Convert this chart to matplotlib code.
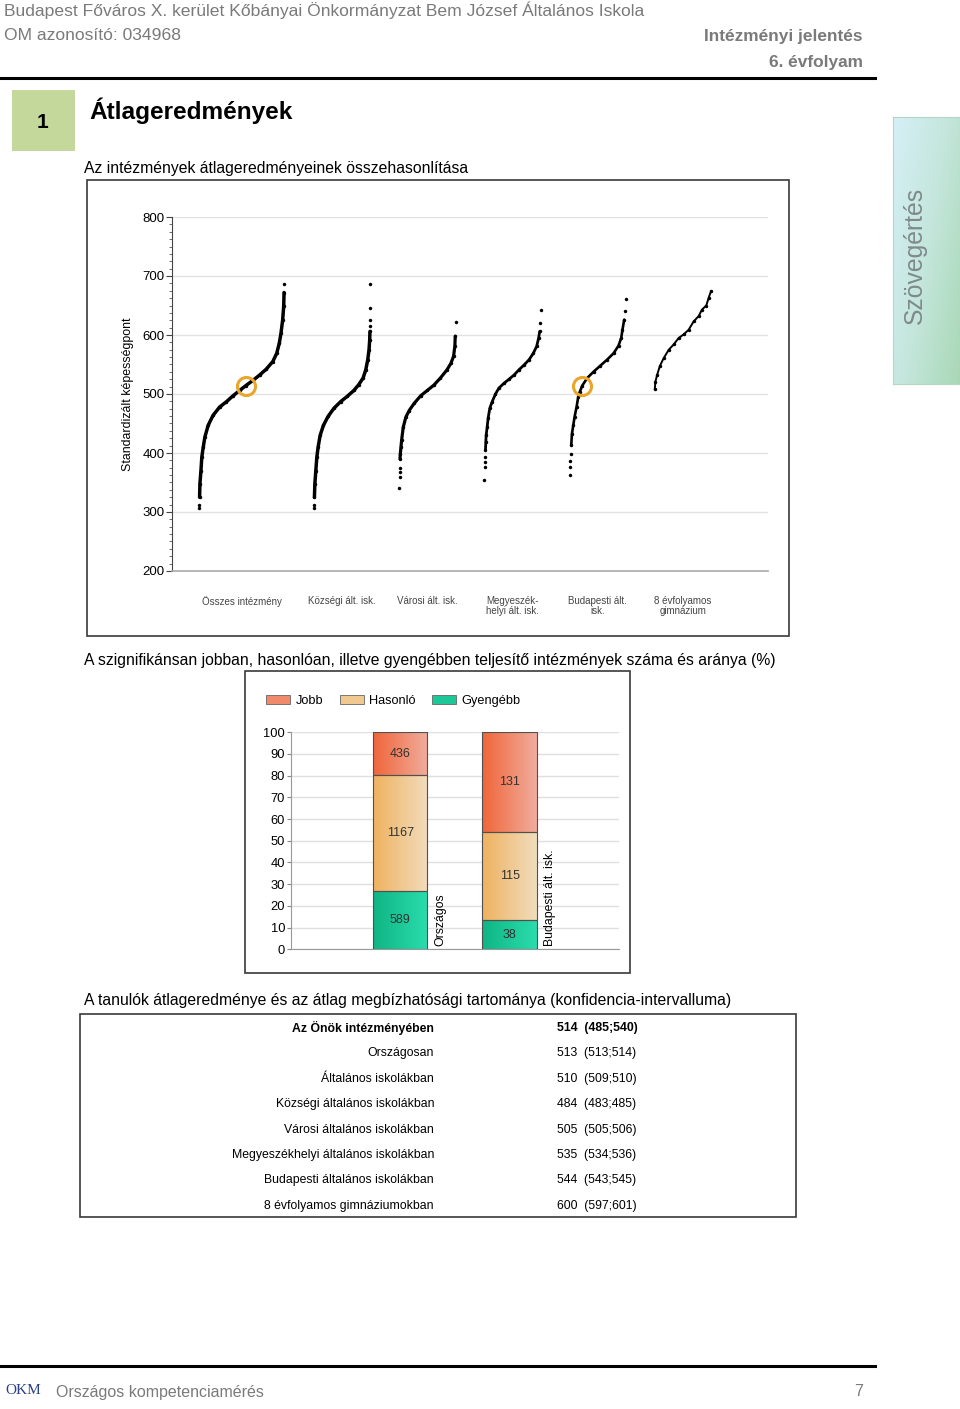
import numpy as np
import matplotlib
matplotlib.use("Agg")
import matplotlib.pyplot as plt
from matplotlib.patches import Rectangle, Patch
from matplotlib.lines import Line2D
from matplotlib.colors import LinearSegmentedColormap

SANS = ['Liberation Sans', 'DejaVu Sans']
plt.rcParams['font.family'] = SANS

W, H = 960, 1409

# ---- adatok: 1. ábra (iskolák átlageredményei sorba rendezve) ----
categories = ['Összes intézmény', 'Községi ált. isk.', 'Városi ált. isk.',
              'Megyeszék-\nhelyi ált. isk.', 'Budapesti ált.\nisk.', '8 évfolyamos\ngimnázium']

osszes_rank = [0, 0.2, 0.4, 0.8, 2, 3, 4.7, 6.6, 10.5, 16.3, 24, 32, 39.7, 47.5, 54.5, 63,
               70.8, 78.6, 86.4, 91, 94, 96, 98, 99.2, 99.6, 100]
osszes_score = [307, 312, 325, 348, 370, 393, 410, 427, 447, 464, 478, 487, 497, 506, 514, 523,
                532, 542, 555, 569, 586, 603, 626, 649, 672, 687]

kozsegi_rank = [0, 0.2, 0.4, 1.2, 2.9, 4.7, 7, 10.6, 16.5, 24.7, 35.3, 47, 58.8, 70.6, 79.4, 87,
                91.8, 95.3, 97.6, 98.8, 99.2, 99.4, 99.6, 99.8, 100]
kozsegi_score = [307, 312, 325, 348, 370, 393, 410, 430, 447, 462, 476, 487, 496, 506, 516, 527,
                 541, 558, 575, 592, 606, 615, 625, 645, 687]

varosi_rank = [0, 0.3, 0.6, 0.9, 1.2, 1.8, 2.9, 4.1, 7, 11.7, 17.5, 26.3, 38, 49.7, 61.4, 73,
               84.8, 91.8, 96.5, 98.8, 99.5, 100]
varosi_score = [341, 359, 368, 375, 390, 399, 410, 422, 444, 461, 472, 484, 497, 506, 515, 527,
                541, 552, 564, 581, 598, 622]

megyei_rank = [0, 0.3, 0.6, 0.9, 1.8, 2.4, 3, 4.8, 6.5, 9.5, 13.7, 19.6, 25.6, 34.5, 43.5, 52.4,
               61.3, 70.2, 79.2, 86.9, 92.9, 96.4, 98.2, 99.4, 100]
megyei_score = [355, 376, 385, 393, 405, 419, 430, 444, 459, 476, 487, 500, 510, 518, 525, 532,
                541, 549, 558, 569, 581, 595, 606, 620, 642]

budapesti_rank = [0, 0.6, 1.2, 1.8, 2.9, 4.1, 6.5, 8.8, 12.4, 15.3, 18.2, 22.4, 31.2, 42.9, 54.7,
                  66.5, 78.2, 87.1, 91.8, 94.1, 97.1, 98.8, 100]
budapesti_score = [362, 376, 387, 399, 413, 432, 447, 461, 478, 495, 504, 514, 527, 538, 548,
                   558, 569, 582, 595, 609, 626, 640, 661]

gimn_rank = [0, 1.2, 4.1, 8.9, 16, 24.9, 33.7, 42.6, 51.5, 60.4, 69.2, 78.1, 84, 91.7, 95.9, 100]
gimn_score = [508, 521, 532, 547, 561, 575, 584, 595, 601, 609, 623, 632, 643, 650, 663, 674]

# az iskola eredménye és helye két eloszlásban (Összes, Budapesti)
school_score = 514
school_marks = [(0, 54.5), (4, 22.4)]

# ---- adatok: 2. ábra ----
groups = ['Országos', 'Budapesti ált. isk.']
jobb = [436, 131]
hasonlo = [1167, 115]
gyengebb = [589, 38]

# ---- adatok: táblázat ----
row_labels = ['Az Önök intézményében', 'Országosan', 'Általános iskolákban',
              'Községi általános iskolákban', 'Városi általános iskolákban',
              'Megyeszékhelyi általános iskolákban', 'Budapesti általános iskolákban',
              '8 évfolyamos gimnáziumokban']
row_mean = [514, 513, 510, 484, 505, 535, 544, 600]
row_low = [485, 513, 509, 483, 505, 534, 543, 597]
row_high = [540, 514, 510, 485, 506, 536, 545, 601]


def box(x0, y0, x1, y1):
    return [x0 / W, 1 - y1 / H, (x1 - x0) / W, (y1 - y0) / H]


def ftext(x, y, s, **kw):
    fig.text(x / W, 1 - y / H, s, **kw)


def frame(x0, y0, x1, y1, color='#3a3a3a', lw=1.2):
    fig.add_artist(Rectangle((x0 / W, 1 - y1 / H), (x1 - x0) / W, (y1 - y0) / H,
                             transform=fig.transFigure, fill=False, edgecolor=color, lw=lw))


def hline(x0, x1, y, lw=2.2):
    fig.add_artist(Line2D([x0 / W, x1 / W], [1 - y / H, 1 - y / H],
                          transform=fig.transFigure, color='black', lw=lw))


fig = plt.figure(figsize=(W / 100, H / 100), dpi=100)

# ---- fejléc ----
gray = '#7a7a7a'
ftext(4, 10, 'Budapest Főváros X. kerület Kőbányai Önkormányzat Bem József Általános Iskola',
      fontsize=12.6, color=gray, va='center')
ftext(4, 36, 'OM azonosító: 034968', fontsize=12.6, color=gray, va='center')
ftext(863, 36, 'Intézményi jelentés', fontsize=12.4, color=gray, va='center', ha='right',
      fontweight='bold')
ftext(863, 62, '6. évfolyam', fontsize=12.4, color=gray, va='center', ha='right',
      fontweight='bold')
hline(0, 875, 78)

fig.add_artist(Rectangle((12 / W, 1 - 151 / H), 63 / W, 61 / H, transform=fig.transFigure,
                         color='#c5d89c', lw=0))
ftext(43, 122, '1', fontsize=15, fontweight='bold', ha='center', va='center')
ftext(89, 111, 'Átlageredmények', fontsize=17.6, fontweight='bold', va='center')

# oldalsó fül
tab = fig.add_axes(box(893, 117, 960, 384))
gx, gy = np.meshgrid(np.linspace(0, 1, 60), np.linspace(0, 1, 200))
tab_cmap = LinearSegmentedColormap.from_list('tab', ['#d6f0f7', '#c4e6dc', '#a9d8b6'])
tab.imshow(0.6 * gx + 0.4 * gy, cmap=tab_cmap, aspect='auto', extent=(0, 1, 0, 1), origin='upper')
tab.set_xticks([])
tab.set_yticks([])
for s in tab.spines.values():
    s.set_color('#b5d6c4')
ftext(915, 255, 'Szövegértés', fontsize=17.8, color='#7f8a8a', rotation=90,
      ha='center', va='center')

# ---- 1. ábra ----
ftext(84, 169, 'Az intézmények átlageredményeinek összehasonlítása', fontsize=11.3,
      va='center')
frame(87, 180, 789, 636)

ax1 = fig.add_axes(box(172, 217, 768, 571))
centers = [0.82, 2, 3, 4, 5, 6]
widths = [1.0, 0.66, 0.66, 0.66, 0.66, 0.66]
curves = [(osszes_rank, osszes_score), (kozsegi_rank, kozsegi_score),
          (varosi_rank, varosi_score), (megyei_rank, megyei_score),
          (budapesti_rank, budapesti_score), (gimn_rank, gimn_score)]
# elszórt pontok száma a két végén
loose = [(2, 1), (2, 4), (4, 1), (4, 2), (4, 2), (0, 0)]
lws = [2.5, 2.5, 2.3, 2.0, 1.9, 1.4]
for (rank, score), c, w, (lo, hi), lw in zip(curves, centers, widths, loose, lws):
    x = c - w / 2 + np.array(rank) / 100 * w
    y = np.array(score)
    core = slice(lo, len(y) - hi)
    ax1.plot(x[core], y[core], color='black', lw=lw, solid_capstyle='round', zorder=3)
    ax1.plot(x, y, 'o', color='black', ms=2.5, mec='none', zorder=3)

for ci, r in school_marks:
    x = centers[ci] - widths[ci] / 2 + r / 100 * widths[ci]
    ax1.plot(x, school_score, 'o', ms=13, mfc='none', mec='#eba52a', mew=2.2, zorder=4)

ax1.set_xlim(0, 7)
ax1.set_ylim(200, 800)
ax1.set_yticks(range(200, 801, 100))
ax1.set_yticks(np.arange(200, 800, 12.5), minor=True)
ax1.tick_params(axis='y', which='major', labelsize=9.5, length=4, color='#444', pad=1.5)
ax1.tick_params(axis='y', which='minor', length=2, color='#555')
ax1.set_xticks(centers)
ax1.set_xticklabels(categories, fontsize=7, color='#444', va='top', linespacing=1.0)
ax1.tick_params(axis='x', length=0, pad=18)
ax1.grid(axis='y', color='#e2e2e2', lw=1)
ax1.set_axisbelow(True)
for s in ['top', 'right']:
    ax1.spines[s].set_visible(False)
ax1.spines['left'].set_color('#444')
ax1.spines['bottom'].set_color('#aaaaaa')
ax1.spines['bottom'].set_linewidth(1.2)
ax1.set_ylabel('Standardizált képességpont', fontsize=8.9, labelpad=6)

# ---- 2. ábra ----
ftext(84, 660, 'A szignifikánsan jobban, hasonlóan, illetve gyengébben teljesítő '
      'intézmények száma és aránya (%)', fontsize=11.3, va='center')
frame(245, 671, 630, 973)

ax2 = fig.add_axes(box(290.7, 732.3, 619, 949.3))
tot = np.array(jobb) + np.array(hasonlo) + np.array(gyengebb)
p_gy = np.array(gyengebb) / tot * 100
p_ha = np.array(hasonlo) / tot * 100
p_jo = np.array(jobb) / tot * 100
pos = np.arange(1, len(groups) + 1)
segments = [
    (p_gy, np.zeros(len(pos)), gyengebb, ('#10b584', '#2adcac')),
    (p_ha, p_gy, hasonlo, ('#efb260', '#f1dcbc')),
    (p_jo, p_gy + p_ha, jobb, ('#f0663a', '#f0ac9c')),
]
for vals, bottoms, counts, (c0, c1) in segments:
    bars = ax2.bar(pos, vals, bottom=bottoms, width=0.5, color='none',
                   edgecolor='#505050', lw=0.8, zorder=3)
    cm = LinearSegmentedColormap.from_list('g', [c0, c1])
    for b, n in zip(bars, counts):
        x0, y0 = b.get_x(), b.get_y()
        ax2.imshow(np.linspace(0, 1, 50).reshape(1, -1), cmap=cm, aspect='auto',
                   extent=(x0, x0 + b.get_width(), y0, y0 + b.get_height()), zorder=2)
        ax2.text(b.get_x() + b.get_width() / 2, y0 + b.get_height() / 2, str(n),
                 ha='center', va='center', fontsize=9, color='#333', zorder=4)

for p, g in zip(pos, groups):
    ax2.text(p + 0.37, 1.5, g, rotation=90, ha='center', va='bottom', fontsize=8.8)

ax2.set_xlim(0, 3)
ax2.set_ylim(0, 100)
ax2.set_xticks([])
ax2.set_yticks(range(0, 101, 10))
ax2.tick_params(axis='y', labelsize=9.3, length=3, color='#888', pad=1)
ax2.grid(axis='y', color='#e0e0e0', lw=1)
ax2.set_axisbelow(True)
for s in ['top', 'right']:
    ax2.spines[s].set_visible(False)
ax2.spines['left'].set_color('#999')
ax2.spines['bottom'].set_color('#999')

handles = [Patch(facecolor='#f08a6a', edgecolor='#666', lw=0.6, label='Jobb'),
           Patch(facecolor='#f0c890', edgecolor='#666', lw=0.6, label='Hasonló'),
           Patch(facecolor='#1cc898', edgecolor='#666', lw=0.6, label='Gyengébb')]
ax2.legend(handles=handles, loc='center left', bbox_to_anchor=(-0.075, 1.145), ncol=3,
           frameon=False, fontsize=9.2, handlelength=1.9, handleheight=0.8,
           handletextpad=0.4, columnspacing=1.3, borderpad=0, borderaxespad=0)

# ---- táblázat ----
ftext(84, 1001, 'A tanulók átlageredménye és az átlag megbízhatósági tartománya '
      '(konfidencia-intervalluma)', fontsize=11.3, va='center')
frame(80, 1014, 796, 1217)
for i, (lab, m, lo, hi) in enumerate(zip(row_labels, row_mean, row_low, row_high)):
    y = 1028 + i * 25.4
    wgt = 'bold' if i == 0 else 'normal'
    ftext(434, y, lab, fontsize=8.8, ha='right', va='center', fontweight=wgt)
    ftext(557, y, f'{m}  ({lo};{hi})', fontsize=8.8, ha='left', va='center', fontweight=wgt)

# ---- lábléc ----
hline(0, 875, 1366)
ftext(5, 1390, 'OKM', fontsize=11, color='#2b3f86', family='Liberation Serif', va='center')
ftext(56, 1392, 'Országos kompetenciamérés', fontsize=11.5, color=gray, va='center')
ftext(863, 1392, '7', fontsize=11.5, color=gray, va='center', ha='right')

fig.savefig('out.png', dpi=100)
